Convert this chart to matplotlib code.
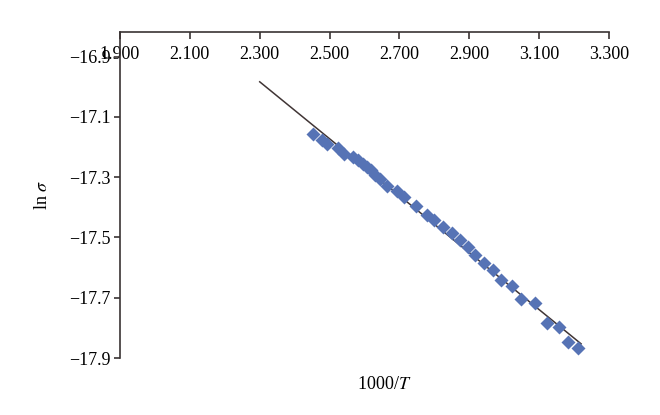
import numpy as np
import matplotlib
matplotlib.use('Agg')
import matplotlib.pyplot as plt
from matplotlib.ticker import FuncFormatter

plt.rcParams['font.family'] = ['Liberation Serif', 'DejaVu Serif']
plt.rcParams['mathtext.fontset'] = 'stix'

# 1000/T and ln(sigma)
inv_t = [2.453, 2.478, 2.494, 2.523, 2.540, 2.568, 2.582, 2.595, 2.606, 2.618,
         2.631, 2.644, 2.664, 2.692, 2.714, 2.748, 2.778, 2.800, 2.824, 2.850,
         2.874, 2.896, 2.917, 2.942, 2.969, 2.992, 3.022, 3.047, 3.088, 3.123,
         3.156, 3.182, 3.212]
ln_sigma = [-17.158, -17.176, -17.191, -17.204, -17.223, -17.232, -17.243, -17.255,
            -17.266, -17.277, -17.292, -17.305, -17.328, -17.347, -17.364, -17.394,
            -17.426, -17.441, -17.465, -17.485, -17.509, -17.530, -17.559, -17.585,
            -17.607, -17.640, -17.662, -17.704, -17.716, -17.783, -17.797, -17.848,
            -17.866]

# trend line span (extended back to 2.3 like the original)
trend_x = [2.30, 3.22]
x_ticks = [1.9, 2.1, 2.3, 2.5, 2.7, 2.9, 3.1, 3.3]
y_ticks = [-17.9, -17.7, -17.5, -17.3, -17.1, -16.9]


def fmt(dec):
    return FuncFormatter(lambda v, pos: f'{v:.{dec}f}'.replace('-', '\u2212'))


fig = plt.figure(figsize=(6.6, 4.15), dpi=100)
ax = fig.add_axes([0.1818, 0.1373, 0.741, 0.7856])

k, b = np.polyfit(inv_t, ln_sigma, 1)
tx = np.array(trend_x)
ax.plot(tx, k * tx + b, color='#403535', lw=1.1, zorder=2)
ax.plot(inv_t, ln_sigma, 'D', color='#5673b5', ms=7.5, mec='none', zorder=3)

ax.set_xlim(1.9, 3.3)
ax.set_ylim(-17.9, -16.818)
ax.set_xticks(x_ticks)
ax.set_yticks(y_ticks)
ax.xaxis.set_major_formatter(fmt(3))
ax.yaxis.set_major_formatter(fmt(1))

for s in ['bottom', 'right']:
    ax.spines[s].set_visible(False)
for s in ['top', 'left']:
    ax.spines[s].set_color('#3a3333')
    ax.spines[s].set_linewidth(1.2)

# x axis sits on top, labels hang just under the line
ax.xaxis.set_ticks_position('top')
ax.tick_params(axis='x', direction='in', length=5, width=1.2, color='#3a3333',
               pad=-22, labelsize=13, labeltop=True, labelbottom=False)
ax.tick_params(axis='y', direction='out', length=4, width=1.2, color='#3a3333',
               pad=3, labelsize=13)

ax.set_ylabel(r'ln $\sigma$', fontsize=13, labelpad=13)
ax.set_xlabel(r'1000/$T$', fontsize=13)
ax.xaxis.set_label_coords(0.54, -0.055)

fig.savefig('out.png', dpi=100)
